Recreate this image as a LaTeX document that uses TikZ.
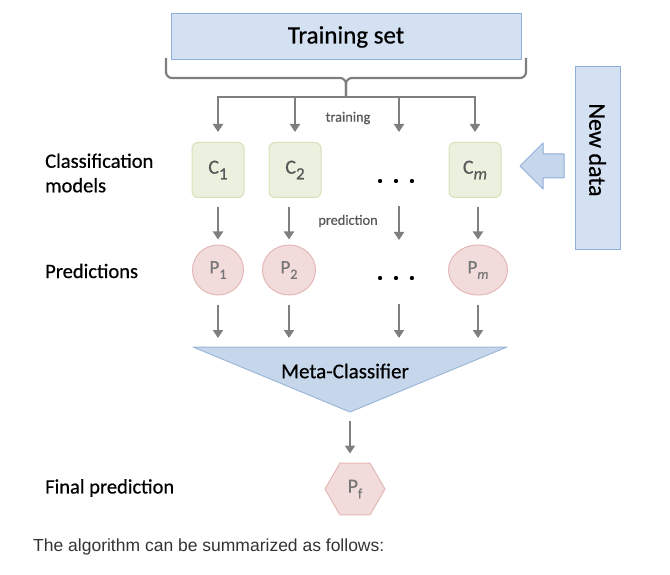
\documentclass[tikz,border=0pt]{standalone}
\usepackage{fontspec}
\setmainfont{Carlito}[FakeBold=0.6]
\newfontfamily\arialf{Liberation Sans}
\usetikzlibrary{shapes.geometric,arrows.meta}
\definecolor{arrowgray}{HTML}{7F7F7F}
\definecolor{tsfill}{HTML}{D3E1F3}
\definecolor{tsdraw}{HTML}{8FAEDA}
\definecolor{cfill}{HTML}{EBF1DE}
\definecolor{cdraw}{HTML}{D4E2BA}
\definecolor{pfill}{HTML}{F2DCDB}
\definecolor{pdraw}{HTML}{E3B8B6}
\definecolor{mfill}{HTML}{C6D7EC}
\definecolor{mdraw}{HTML}{9DB7D8}
\definecolor{ctext}{HTML}{595959}
\definecolor{ptext}{HTML}{767676}
\definecolor{captext}{HTML}{333333}
\newcommand{\lowsub}[2]{\raisebox{-0.28em}{\fontsize{#1}{#1}\selectfont #2}}
\tikzset{
  tsbox/.style={draw=tsdraw, fill=tsfill, line width=1pt, minimum width=350pt, minimum height=46pt, inner sep=0pt, font=\fontsize{25}{28}\selectfont},
  cbox/.style={draw=cdraw, fill=cfill, line width=1pt, rounded corners=6pt, minimum width=52pt, minimum height=55pt, inner sep=0pt, text=ctext, font=\fontsize{20}{22}\selectfont},
  pell/.style={ellipse, draw=pdraw, fill=pfill, line width=1pt, minimum height=50pt, inner sep=0pt, text=ptext, font=\fontsize{19}{21}\selectfont},
  pfhex/.style={regular polygon, regular polygon sides=6, draw=pdraw, fill=pfill, line width=1pt, minimum size=60pt, inner sep=0pt, text=ptext, font=\fontsize{20}{22}\selectfont},
  ndbox/.style={draw=tsdraw, fill=tsfill, line width=1pt, minimum width=182pt, minimum height=45pt, inner sep=0pt, font=\fontsize{24}{26}\selectfont},
  lbl/.style={anchor=west, align=left, inner sep=0pt, font=\fontsize{20.5}{24.5}\selectfont},
  small/.style={inner sep=0pt, text=ctext, font=\fontsize{14.3}{16}\selectfont},
  dotsnode/.style={inner sep=0pt, font=\fontsize{26}{26}\selectfont\bfseries},
  arr/.style={draw=arrowgray, line width=2.2pt, -{Triangle[length=8pt,width=10pt]}},
  gline/.style={draw=arrowgray, line width=2.2pt},
}
\begin{document}
\begin{tikzpicture}[x=1pt,y=-1pt]
\useasboundingbox (0,0) rectangle (670,575);
% training set
\node[tsbox] (ts) at (346,37) {Training set};
% brace
\coordinate (bl) at (166,58);
\coordinate (br) at (526,58);
\coordinate (bm) at (346,78);
\coordinate (bt) at (346,97);
\draw[gline, rounded corners=6pt] (bl) -- (bl |- bm) -- (bm) -- (bt);
\draw[gline, rounded corners=6pt] (br) -- (br |- bm) -- (bm) -- (bt);
% classifiers
\node[cbox] (c1) at (218,170) {C\lowsub{17}{1}};
\node[cbox] (c2) at (295,170) {C\lowsub{17}{2}};
\node[cbox] (cm) at (475,170) {C\lowsub{17}{\itshape m}};
\node[dotsnode] (cdots) at (396,181) {.\hspace{9pt}.\hspace{9pt}.};
\coordinate (ctop) at (399,142);
\coordinate (cbot) at (399,197);
% distribution line and training arrows
\draw[gline, line cap=rect] (c1 |- bt) -- (cm |- bt);
\draw[arr, shorten >=10pt] (c1 |- bt) -- (c1.north);
\draw[arr, shorten >=10pt] (c2 |- bt) -- (c2.north);
\draw[arr, shorten >=10pt] (ctop |- bt) -- (ctop);
\draw[arr, shorten >=10pt] (cm |- bt) -- (cm.north);
\node[small] (trlbl) at (348,118) {training};
% predictions
\node[pell, minimum width=51pt] (p1) at (218,270) {P\lowsub{14}{1}};
\node[pell, minimum width=53pt] (p2) at (289,270) {P\lowsub{14}{2}};
\node[pell, minimum width=59pt] (pm) at (478,270) {P\lowsub{14}{\itshape m}};
\node[dotsnode] (pdots) at (396,278) {.\hspace{9pt}.\hspace{9pt}.};
\coordinate (ptop) at (399,245);
\coordinate (pbot) at (399,295);
\draw[arr, shorten <=9pt, shorten >=5pt] (p1.north |- c1.south) -- (p1.north);
\draw[arr, shorten <=9pt, shorten >=5pt] (p2.north |- c2.south) -- (p2.north);
\draw[arr, shorten <=9pt, shorten >=5pt] (cbot) -- (ptop);
\draw[arr, shorten <=9pt, shorten >=5pt] (pm.north |- cm.south) -- (pm.north);
\node[small] (prlbl) at (348,221) {prediction};
% meta-classifier
\coordinate (mtl) at (193,347);
\coordinate (mtr) at (507,347);
\coordinate (mtb) at (350,412);
\draw[draw=mdraw, fill=mfill, line width=1pt, line join=round] (mtl) -- (mtr) -- (mtb) -- cycle;
\node[inner sep=0pt, font=\fontsize{21}{24}\selectfont] (mc) at (345,371) {Meta-Classifier};
\draw[arr, shorten <=9pt, shorten >=9pt] (p1.south) -- (p1.south |- mtl);
\draw[arr, shorten <=9pt, shorten >=9pt] (p2.south) -- (p2.south |- mtl);
\draw[arr, shorten <=9pt, shorten >=9pt] (pbot) -- (pbot |- mtl);
\draw[arr, shorten <=9pt, shorten >=9pt] (pm.south) -- (pm.south |- mtl);
% final prediction
\node[pfhex] (pf) at (355,489) {P\lowsub{14}{f}};
\draw[arr, shorten <=9pt, shorten >=9pt] (mtb) -- (mtb |- pf.north);
% new data
\node[ndbox, rotate=-90] (nd) at (597.5,158) {New data\kern16pt};
\coordinate (na) at (520,166);
\draw[draw=tsdraw, fill=mfill, line width=1pt, line join=round]
  (na) -- ++(23,-23) -- ++(0,11) -- ++(21,0) -- ++(0,24) -- ++(-21,0) -- ++(0,11) -- cycle;
% left labels
\node[lbl] (lcls) at (45,173) {Classification\\models};
\node[lbl] (lprd) at (45,271) {Predictions};
\node[lbl] (lfin) at (45,488) {Final prediction};
% caption
\node[anchor=west, inner sep=0pt, text=captext, font=\arialf\fontsize{17.5}{20}\selectfont] (cap) at (33,547) {The algorithm can be summarized as follows:};
\end{tikzpicture}
\end{document}
